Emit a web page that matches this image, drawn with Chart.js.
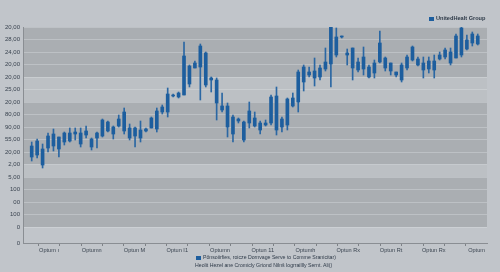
<!DOCTYPE html>
<html lang="en">
<head>
    <meta charset="UTF-8">
    <title>UnitedHealt Group</title>
    <script src="https://cdn.jsdelivr.net/npm/chart.js"></script>
    <style>
        body {
            margin: 0;
            background-color: #c1c5ca;
            font-family: "Liberation Sans", Arial, sans-serif;
        }
        #wrap {
            position: relative;
            width: 500px;
            height: 272px;
        }
        .sq {
            display: inline-block;
            width: 5px;
            height: 4px;
            background: #1d5e9e;
            margin-right: 2px;
            vertical-align: middle;
        }
        #legendTop {
            position: absolute;
            left: 429px;
            top: 15px;
            font-size: 5.6px;
            font-weight: bold;
            color: #2e3a48;
            white-space: nowrap;
        }
        #caption {
            position: absolute;
            left: 195px;
            top: 253px;
            font-size: 5.2px;
            line-height: 8px;
            color: #2e3a48;
            white-space: nowrap;
        }
    </style>
</head>
<body>
    <div id="wrap">
        <canvas id="candleChart" width="500" height="272"></canvas>
        <div id="legendTop"><span class="sq"></span>UnitedHealt Group</div>
        <div id="caption">
            <div style="padding-left:1px"><span class="sq"></span>Pőnsoiirfies, roicze Dornvage Serve to Comme Sranicitar)</div>
            <div>Heolit Hezel ane Cromicly Griond Nilnš logrraillly Sernt. Ali()</div>
        </div>
    </div>

    <script>
        // Candle values (one entry per session, left to right)
        const high = [8.08,8.32,7.92,8.8,9.12,8.48,8.88,9.2,9.2,9.2,
            9.36,8.4,8.88,9.92,9.76,9.36,10.24,10.8,9.52,9.28,
            9.76,9.2,10.08,10.8,11.04,12.4,11.92,12.08,16.08,14.24,
            14.56,15.92,15.28,13.28,13.2,12.0,11.2,10.24,10.0,9.76,
            11.28,10.48,9.76,9.84,11.84,12.48,10.08,11.6,12.0,13.84,
            14.24,14.08,14.8,14.24,15.6,17.84,17.2,16.56,15.52,15.6,
            14.8,15.68,14.24,14.64,16.96,14.88,14.4,13.68,14.4,15.04,
            15.76,14.88,14.88,14.88,15.04,15.28,15.6,15.6,16.72,17.44,
            16.64,16.88,16.72];
        const low = [6.56,6.8,6.0,7.28,7.36,6.88,7.84,8.08,8.24,7.68,
            8.4,7.44,7.6,8.48,8.88,8.32,9.28,8.72,8.24,7.68,
            8.08,8.88,9.2,8.88,10.32,10.08,11.68,11.6,11.84,12.48,
            14.0,11.44,12.48,12.08,9.84,10.48,8.48,8.08,9.6,8.08,
            9.2,9.28,8.72,9.36,9.44,8.64,8.88,9.04,10.88,10.48,
            12.16,13.28,12.56,13.04,13.76,12.48,14.88,16.4,14.24,13.04,
            13.68,13.44,13.2,13.2,14.4,13.76,13.44,13.28,12.88,13.84,
            14.56,14.16,13.2,13.6,13.2,14.64,14.72,14.24,14.8,14.88,
            15.44,15.76,15.84];
        const open = [6.88,7.04,6.24,7.6,7.76,7.52,8.08,8.16,8.72,7.92,
            8.64,7.68,8.4,8.56,8.96,8.72,9.36,8.96,8.4,8.56,
            8.4,8.96,9.2,9.12,10.48,10.48,11.76,11.68,11.84,12.72,
            14.0,14.08,12.64,13.04,11.2,10.64,9.28,8.72,9.76,8.24,
            9.6,9.36,9.04,9.44,9.6,9.04,9.28,9.44,10.96,11.28,
            12.88,13.44,13.2,13.28,13.92,14.32,15.04,16.48,15.04,14.0,
            13.84,13.92,13.28,13.6,14.48,14.0,13.76,13.44,13.04,14.0,
            14.64,14.24,13.84,13.92,13.84,14.72,14.88,14.4,14.8,15.04,
            15.52,16.0,15.92];
        const close = [7.76,8.16,7.52,8.56,8.72,8.48,8.8,8.8,8.88,8.8,
            8.96,8.32,8.8,9.84,9.68,9.28,9.92,10.48,9.2,9.2,
            9.04,9.12,10.0,10.56,10.88,11.92,11.84,12.0,14.96,14.16,
            14.4,15.76,15.2,13.2,13.04,10.96,10.96,10.08,9.92,9.68,
            10.56,10.0,9.6,9.6,11.68,11.76,9.92,11.52,11.6,13.68,
            14.08,13.68,13.76,14.0,14.48,17.68,16.48,16.56,15.2,15.6,
            14.48,14.88,14.08,14.4,16.0,14.8,14.4,13.68,14.24,14.88,
            15.68,14.72,14.4,14.56,14.56,15.04,15.44,15.28,16.56,17.2,
            16.24,16.72,16.56];

        // Axis labels
        const yTickValues = [0,1.28,2.28,3.28,4.28,5.28,6.28,7.28,8.28,9.28,
            10.28,11.28,12.28,13.28,14.28,15.28,16.28,17.28];
        const yTickLabels = ['0','0','100','00','100','5,00','2,00','20,00','55,00',
            '90,00','80,00','20,00','25,00','20,00','20,00','24,00','28,00','20,00'];
        const xTickLabels = ['Optum ı','Optumn','Optun M','Optun I1','Optumn',
            'Optun 11','Optumh','Optun Rx','Optun Rt','Optun Rx','Optum'];

        const blue = '#1d5e9e';

        // shaded horizontal bands behind the candles
        const bands = [
            { from: 13.28, to: 17.28, color: '#aaaeb2' },
            { from: 11.28, to: 13.28, color: '#bcc0c4' },
            { from: 6.28, to: 11.28, color: '#aaaeb2' },
            { from: 5.28, to: 6.28, color: '#bcc0c4' },
            { from: 1.28, to: 5.28, color: '#aaaeb2' }
        ];
        const bandPlugin = {
            id: 'bands',
            beforeDraw(chart) {
                const { ctx, chartArea, scales } = chart;
                ctx.save();
                bands.forEach(b => {
                    const y1 = scales.y.getPixelForValue(b.to);
                    const y2 = scales.y.getPixelForValue(b.from);
                    ctx.fillStyle = b.color;
                    ctx.fillRect(chartArea.left, y1, chartArea.right - chartArea.left, y2 - y1);
                });
                ctx.restore();
            }
        };

        const wicks = high.map((h, i) => ({ x: i, y: [low[i], h] }));
        const bodies = open.map((o, i) => ({ x: i, y: [o, close[i]] }));

        const ctx = document.getElementById('candleChart').getContext('2d');
        new Chart(ctx, {
            type: 'bar',
            data: {
                datasets: [{
                    label: 'UnitedHealt Group',
                    data: bodies,
                    backgroundColor: blue,
                    barThickness: 3,
                    grouped: false,
                    order: 0
                }, {
                    label: 'wick',
                    data: wicks,
                    backgroundColor: '#2b67a3',
                    barThickness: 1,
                    grouped: false,
                    order: 1
                }]
            },
            options: {
                responsive: false,
                animation: false,
                layout: { padding: { top: 27, right: 13, left: 0, bottom: 0 } },
                plugins: {
                    legend: { display: false },
                    tooltip: { enabled: false }
                },
                scales: {
                    x: {
                        type: 'linear',
                        min: -1.6,
                        max: 83.7,
                        offset: false,
                        afterBuildTicks: scale => {
                            scale.ticks = Array.from({ length: 21 }, (_, k) => ({ value: 3.18 + 3.93 * k }));
                        },
                        afterFit: scale => { scale.height = 29; },
                        ticks: {
                            autoSkip: false,
                            maxRotation: 0,
                            padding: 1,
                            color: '#3a4450',
                            font: { family: 'Liberation Sans', size: 5.6 },
                            callback: (v, k) => (k % 2 === 0 ? xTickLabels[k / 2] : '')
                        },
                        grid: {
                            drawOnChartArea: false,
                            tickLength: 3,
                            color: '#7d8186'
                        },
                        border: { color: '#8a8e93' }
                    },
                    y: {
                        min: 0,
                        max: 17.28,
                        afterBuildTicks: scale => {
                            scale.ticks = yTickValues.map(v => ({ value: v }));
                        },
                        afterFit: scale => { scale.width = 23; },
                        ticks: {
                            padding: 3,
                            color: '#3a4450',
                            font: { family: 'Liberation Sans', size: 6 },
                            callback: (v, k) => yTickLabels[k]
                        },
                        grid: {
                            drawTicks: false,
                            color: 'rgba(225,229,233,0.35)'
                        },
                        border: { color: '#8a8e93' }
                    }
                }
            },
            plugins: [bandPlugin]
        });
    </script>
</body>
</html>
